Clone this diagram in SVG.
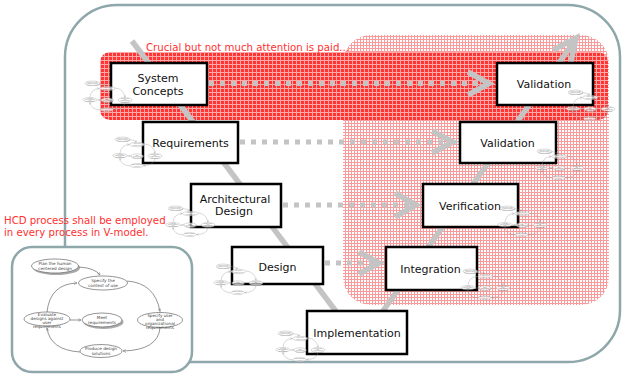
<svg xmlns="http://www.w3.org/2000/svg" xmlns:xlink="http://www.w3.org/1999/xlink" width="622" height="374" viewBox="0 0 622 374">
<style>
.frame{fill:#fff;stroke:#8ea7ab;stroke-width:2.5}
.box{fill:#fff;stroke:#000;stroke-width:2.5}
.lbl{font-family:"DejaVu Sans","Verdana",sans-serif;font-size:11px;fill:#111;text-anchor:middle}
.red{font-family:"DejaVu Sans","Verdana",sans-serif;font-size:10.2px;fill:#ff3030}
.vline{fill:none;stroke:#c4c4c4;stroke-width:5.5}
.dots{fill:none;stroke:#c4c4c4;stroke-width:5;stroke-dasharray:5 6}
.chev{fill:none;stroke:#c4c4c4;stroke-width:5.5;stroke-linejoin:miter}
.he{fill:#fff}
.hs{fill:#aaa;stroke:none}
.ht{font-family:"DejaVu Sans",sans-serif;font-size:4.2px;fill:#444;stroke:none;text-anchor:middle}
.ha{fill:none}
.thumb{stroke:#999;stroke-width:1.6;opacity:0.75}
</style>
<defs>
<pattern id="pink" width="3" height="3" patternUnits="userSpaceOnUse"><rect width="3" height="3" fill="#fff"/><rect width="3" height="1" fill="#fa9a9a"/><rect width="1" height="3" fill="#fa9a9a"/></pattern>
<pattern id="redp" width="4" height="4" patternUnits="userSpaceOnUse"><rect width="4" height="4" fill="#ff3434"/><rect width="4" height="1" fill="#ffa8a8"/><rect width="1" height="4" fill="#ffa8a8"/></pattern>
<marker id="ah" viewBox="0 0 6 6" refX="5" refY="3" markerWidth="5" markerHeight="5" orient="auto"><path d="M0,0.5 L5,3 L0,5.5" fill="none" stroke="#777" stroke-width="0.8"/></marker>
<g id="hcd">
<ellipse class="hs" cx="-45.5" cy="-52" rx="23.5" ry="7"/>
<ellipse class="hs" cx="1.5" cy="2" rx="20" ry="7"/>
<path class="ha" marker-end="url(#ah)" d="M-23,-53 Q-7,-52 -2,-45"/>
<path class="ha" marker-end="url(#ah)" d="M25,-39 Q53,-37 58,-8.5"/>
<path class="ha" marker-end="url(#ah)" d="M58,8 Q56,30 21,31"/>
<path class="ha" marker-end="url(#ah)" d="M-22,32 Q-52,30 -55,8"/>
<path class="ha" marker-end="url(#ah)" d="M-55,-8 Q-52,-36 -25,-37"/>
<path class="ha" marker-end="url(#ah)" d="M-32,0 L-21,0"/>
<ellipse class="he" cx="-47" cy="-54" rx="23.5" ry="7"/>
<ellipse class="he" cx="1" cy="-37" rx="24.5" ry="7"/>
<ellipse class="he" cx="58" cy="0" rx="22.5" ry="7.5"/>
<ellipse class="he" cx="-1" cy="31" rx="21" ry="6.5"/>
<ellipse class="he" cx="-55" cy="-1" rx="23" ry="7"/>
<ellipse class="he" cx="0" cy="0" rx="20" ry="7"/>
<text class="ht" x="-47" y="-55">Plan the human</text>
<text class="ht" x="-47" y="-50.5">centered design</text>
<text class="ht" x="1" y="-38">Specify the</text>
<text class="ht" x="1" y="-33.5">context of use</text>
<text class="ht" x="58" y="-3.5">Specify user</text>
<text class="ht" x="58" y="0.5">and</text>
<text class="ht" x="58" y="4.5">organizational</text>
<text class="ht" x="58" y="8.5">requirements</text>
<text class="ht" x="-1" y="30">Produce design</text>
<text class="ht" x="-1" y="34.5">solutions</text>
<text class="ht" x="-55" y="-4.5">Evaluate</text>
<text class="ht" x="-55" y="-0.5">designs against</text>
<text class="ht" x="-55" y="3.5">user</text>
<text class="ht" x="-55" y="7.5">requirements</text>
<text class="ht" x="0" y="-1">Meet</text>
<text class="ht" x="0" y="3.5">requirements</text>
</g>
</defs>

<rect class="frame" x="65" y="5" width="555" height="357" rx="52"/>

<rect x="343" y="35" width="266" height="270" rx="28" fill="url(#pink)"/>
<rect x="100" y="52" width="508" height="68" rx="10" fill="url(#redp)"/>

<text class="red" x="146" y="51">Crucial but not much attention is paid...</text>

<g id="connectors">
<path class="vline" d="M132,41 L341,318"/>
<path class="vline" d="M378,318 L576,39"/>
<path class="chev" d="M553,50 L576,38 L571,62"/>
<path class="dots" d="M209,83.5 H482"/>
<path class="chev" d="M468,72 L489,83.5 L468,95"/>
<path class="dots" d="M240,142 H446"/>
<path class="chev" d="M432,131 L453,142 L432,153"/>
<path class="dots" d="M283,205 H410"/>
<path class="chev" d="M395,193 L416,205 L395,217"/>
<path class="dots" d="M325,263 H372"/>
<path class="chev" d="M359,252 L379,263 L359,274"/>
</g>

<g id="system-concepts">
<rect class="box" x="111" y="63" width="96" height="42"/>
<text class="lbl" x="158" y="82">System</text>
<text class="lbl" x="158" y="95">Concepts</text>
<use class="thumb" xlink:href="#hcd" transform="translate(107,100) scale(0.31)"/>
</g>
<g id="validation-top">
<rect class="box" x="497" y="63" width="96" height="42"/>
<text class="lbl" x="544" y="88">Validation</text>
<use class="thumb" xlink:href="#hcd" transform="translate(590,109) scale(0.31)"/>
</g>
<g id="requirements">
<rect class="box" x="143" y="122" width="95" height="41"/>
<text class="lbl" x="190.5" y="147">Requirements</text>
<use class="thumb" xlink:href="#hcd" transform="translate(137,156) scale(0.31)"/>
</g>
<g id="validation">
<rect class="box" x="460" y="122" width="96" height="41"/>
<text class="lbl" x="507.5" y="147">Validation</text>
<use class="thumb" xlink:href="#hcd" transform="translate(559,168) scale(0.31)"/>
</g>
<g id="architectural-design">
<rect class="box" x="191" y="184" width="90" height="43"/>
<text class="lbl" x="235" y="203">Architectural</text>
<text class="lbl" x="234" y="215">Design</text>
<use class="thumb" xlink:href="#hcd" transform="translate(190,225) scale(0.31)"/>
</g>
<g id="verification">
<rect class="box" x="423" y="184" width="95" height="43"/>
<text class="lbl" x="470" y="210">Verification</text>
<use class="thumb" xlink:href="#hcd" transform="translate(522,225) scale(0.31)"/>
</g>
<g id="design">
<rect class="box" x="232" y="247" width="91" height="37"/>
<text class="lbl" x="277.5" y="271">Design</text>
<use class="thumb" xlink:href="#hcd" transform="translate(238,283) scale(0.31)"/>
</g>
<g id="integration">
<rect class="box" x="386" y="247" width="91" height="43"/>
<text class="lbl" x="430.5" y="273">Integration</text>
<use class="thumb" xlink:href="#hcd" transform="translate(485,288) scale(0.31)"/>
</g>
<g id="implementation">
<rect class="box" x="307" y="311" width="100" height="43"/>
<text class="lbl" x="357" y="337">Implementation</text>
<use class="thumb" xlink:href="#hcd" transform="translate(300,350) scale(0.31)"/>
</g>

<text class="red" x="4" y="224">HCD process shall be employed</text>
<text class="red" x="4" y="236">in every process in V-model.</text>

<g id="hcd-inset">
<rect class="frame" x="12" y="247" width="180" height="125" rx="20" stroke-width="2"/>
<use xlink:href="#hcd" transform="translate(102,320)" stroke="#666" stroke-width="0.7"/>
</g>
</svg>
